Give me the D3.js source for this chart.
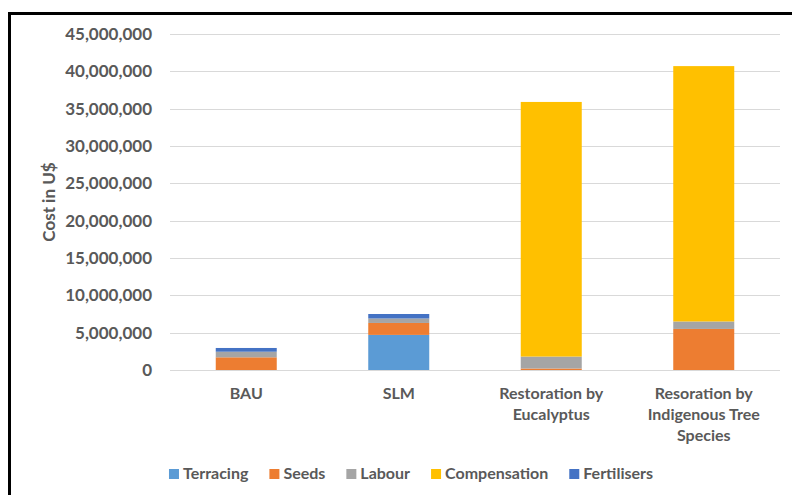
<!DOCTYPE html>
<html>
<head>
<meta charset="utf-8">
<script src="https://cdn.jsdelivr.net/npm/d3@7"></script>
<style>
  html, body { margin: 0; padding: 0; background: #fff; }
  svg { display: block; }
  text { font-family: Lato, "Open Sans", sans-serif; font-weight: bold; fill: #595959; }
</style>
</head>
<body>
<svg id="chart" width="792" height="495"></svg>
<script>
// Cost components per scenario (US$)
const categories = ["BAU", "SLM", "Restoration by Eucalyptus", "Resoration by Indigenous Tree Species"];
const categoryLines = [["BAU"], ["SLM"], ["Restoration by", "Eucalyptus"], ["Resoration by", "Indigenous Tree", "Species"]];
const seriesNames = ["Terracing", "Seeds", "Labour", "Compensation", "Fertilisers"];
const terracing    = [0,       4700000, 0,        0];
const seeds        = [1700000, 1600000, 200000,   5500000];
const labour       = [750000,  600000,  1600000,  1000000];
const compensation = [0,       0,       34100000, 34200000];
const fertilisers  = [500000,  600000,  0,        0];
const yTicks = [0, 5000000, 10000000, 15000000, 20000000, 25000000, 30000000, 35000000, 40000000, 45000000];
const colors = ["#5B9BD5", "#ED7D31", "#A5A5A5", "#FFC000", "#4472C4"];

const seriesValues = [terracing, seeds, labour, compensation, fertilisers];
const table = categories.map((c, i) => {
  const row = { category: c };
  seriesNames.forEach((s, j) => { row[s] = seriesValues[j][i]; });
  return row;
});

const svg = d3.select("#chart");

// outer frame
svg.append("path")
  .attr("d", "M9.5,495 L9.5,13.5 L792,13.5")
  .attr("fill", "none")
  .attr("stroke", "#000")
  .attr("stroke-width", 3);

const x = d3.scaleBand().domain(categories).range([170, 780]).paddingInner(0.6).paddingOuter(0.3);
const y = d3.scaleLinear().domain([0, 45000000]).range([370, 34]);

// gridlines
svg.append("g").selectAll("line").data(yTicks).join("line")
  .attr("x1", 170).attr("x2", 780)
  .attr("y1", d => Math.round(y(d)) + 0.5).attr("y2", d => Math.round(y(d)) + 0.5)
  .attr("stroke", "#D9D9D9").attr("stroke-width", 1);

// y axis labels
const yAxis = d3.axisLeft(y).tickValues(yTicks).tickFormat(d3.format(",")).tickSize(0).tickPadding(18);
const yg = svg.append("g").attr("transform", "translate(170,0)").call(yAxis);
yg.select(".domain").remove();
yg.selectAll("text").style("font-size", "17px").style("font-family", null).attr("fill", null);

// stacked bars
const stack = d3.stack().keys(seriesNames);
const layers = stack(table);
svg.append("g").selectAll("g").data(layers).join("g")
  .attr("fill", (d, i) => colors[i])
  .selectAll("rect").data(d => d).join("rect")
  .attr("x", d => x(d.data.category))
  .attr("width", x.bandwidth())
  .attr("y", d => y(d[1]))
  .attr("height", d => Math.max(0, y(d[0]) - y(d[1])));

// category labels
const xg = svg.append("g");
categories.forEach((c, i) => {
  const t = xg.append("text")
    .attr("text-anchor", "middle")
    .style("font-size", "16px");
  categoryLines[i].forEach((line, k) => {
    t.append("tspan")
      .attr("x", x(c) + x.bandwidth() / 2)
      .attr("y", 399 + k * 21)
      .text(line);
  });
});

// y axis title
svg.append("text")
  .attr("transform", `translate(55,${(y(0) + y(45000000)) / 2}) rotate(-90)`)
  .attr("text-anchor", "middle")
  .style("font-size", "17px")
  .text("Cost in U$");

// legend
const legend = svg.append("g");
let lx = 0;
seriesNames.forEach((s, i) => {
  const g = legend.append("g").attr("transform", `translate(${lx},0)`);
  g.append("rect").attr("x", 0).attr("y", 469).attr("width", 10).attr("height", 10).attr("fill", colors[i]);
  const t = g.append("text").attr("x", 14).attr("y", 479).style("font-size", "16px").text(s);
  const w = t.node().getComputedTextLength();
  lx += 14 + w + 21;
});
const totalW = lx - 21;
legend.attr("transform", `translate(${411 - totalW / 2},0)`);
</script>
</body>
</html>
